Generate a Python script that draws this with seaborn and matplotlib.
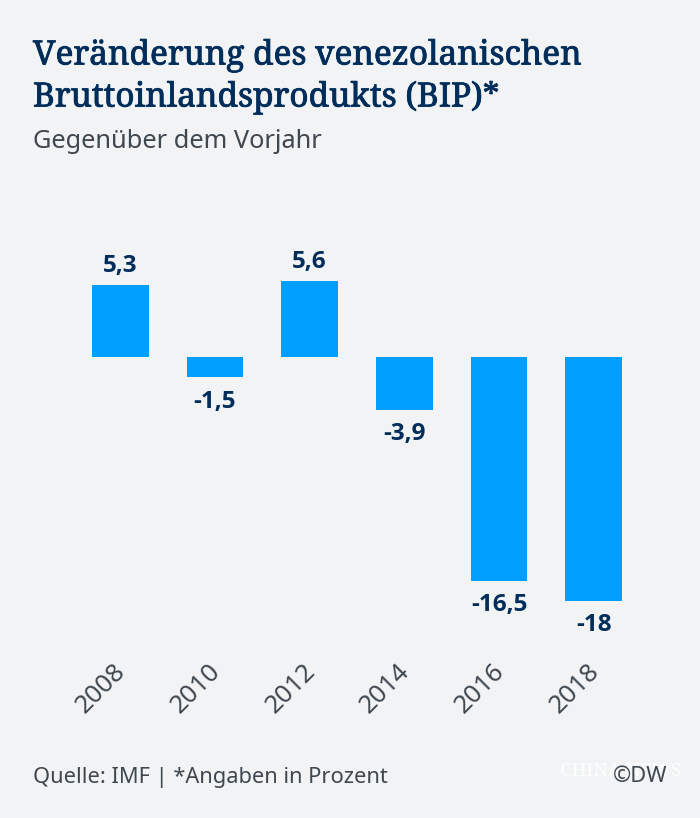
import matplotlib
matplotlib.use('Agg')
import matplotlib.pyplot as plt
import matplotlib.patheffects as pe
import seaborn as sns
import pandas as pd

# Chart data
years = ['2008', '2010', '2012', '2014', '2016', '2018']
gdp_change = [5.3, -1.5, 5.6, -3.9, -16.5, -18]
value_labels = ['5,3', '-1,5', '5,6', '-3,9', '-16,5', '-18']

BG = '#f1f3f5'
BLUE = '#009fff'
NAVY = '#002d5a'
GREY = '#3f474f'
SERIF = ['Noto Serif', 'Liberation Serif', 'DejaVu Serif']

sns.set_theme(style='white')
plt.rcParams['font.family'] = ['Noto Sans', 'DejaVu Sans']

df = pd.DataFrame({'year': years, 'change': gdp_change})

fig = plt.figure(figsize=(7.0, 8.18), dpi=100, facecolor=BG)
# axes span: pixels 73..641 wide, y from 264 to 621
ax = fig.add_axes([73 / 700, 1 - 621 / 818, 568 / 700, 357 / 818], facecolor=BG)

sns.barplot(data=df, x='year', y='change', color=BLUE, saturation=1, width=0.6,
            linewidth=0, ax=ax)

ax.set_xlim(-0.5, 5.5)
# 0 at y=357 px, 13.55 px per unit
ax.set_ylim(-(621 - 357) / 13.55, (357 - 264) / 13.55)
ax.set_xlabel('')
ax.set_ylabel('')
ax.set_yticks([])
sns.despine(ax=ax, left=True, bottom=True)
ax.patch.set_alpha(0)

for i, (v, lab) in enumerate(zip(gdp_change, value_labels)):
    off = 13.5 if v > 0 else -17.5
    ax.annotate(lab, (i, v), xytext=(0, off), textcoords='offset points',
                ha='center', va='center', fontsize=17.5, fontweight='bold',
                family=['Open Sans', 'DejaVu Sans'], color=NAVY)

# year labels sit well below the plot, rotated
ax.set_xticks(range(len(years)))
ax.set_xticklabels([])
ax.tick_params(axis='x', length=0)
for i, y in enumerate(years):
    x_px = 73 + 568 * (i + 0.5) / 6
    fig.text((x_px - 19) / 700, 1 - 689 / 818, y, rotation=45, ha='center', va='center',
             fontsize=18.5, color=GREY, rotation_mode='anchor')

bold_edge = [pe.withStroke(linewidth=0.6, foreground=NAVY)]
fig.text(33 / 700, 1 - 56 / 818, 'Veränderung des venezolanischen', fontsize=24.05,
         color=NAVY, va='center', family=SERIF, path_effects=bold_edge)
fig.text(33 / 700, 1 - 98 / 818, 'Bruttoinlandsprodukts (BIP)*', fontsize=24.05,
         color=NAVY, va='center', family=SERIF, path_effects=bold_edge)
fig.text(33 / 700, 1 - 141 / 818, 'Gegenüber dem Vorjahr', fontsize=18.25, color=GREY, va='center')
fig.text(33 / 700, 1 - 777 / 818, 'Quelle: IMF | *Angaben in Prozent', fontsize=15.7, color=GREY, va='center')
# watermark sits under the DW credit
fig.text(560 / 700, 1 - 771 / 818, 'CHINA NEWS', fontsize=13.5, color='white', va='center',
         family=SERIF, alpha=0.9)
fig.text(667 / 700, 1 - 777 / 818, '©DW', fontsize=15.7, color=GREY, va='center', ha='right')

fig.savefig('out.png', dpi=100, facecolor=BG)
